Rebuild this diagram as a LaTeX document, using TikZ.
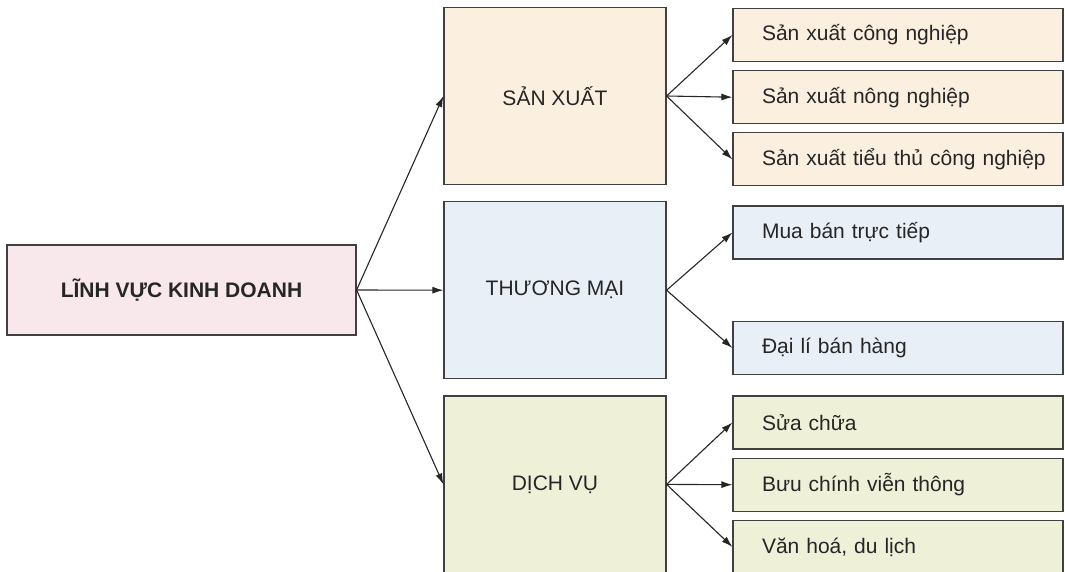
\documentclass[tikz,border=0pt]{standalone}
\usepackage{fontspec}
\setmainfont{Liberation Sans}
\usetikzlibrary{arrows.meta,positioning}
\definecolor{rootpink}{HTML}{F8E8EC}
\definecolor{sxbeige}{HTML}{FBEFDF}
\definecolor{tmblue}{HTML}{E8EFF7}
\definecolor{dvgreen}{HTML}{EEF0D8}

\begin{document}
\begin{tikzpicture}[
  x=1pt, y=-1pt,
  node distance=8pt,
  base/.style={draw=black!75, line width=1.2pt, text=black!85, font=\fontsize{21}{25}\selectfont},
  root/.style={base, fill=rootpink, minimum width=349pt, minimum height=90pt, font=\fontsize{21}{25}\selectfont\bfseries},
  mid/.style={base, minimum width=222pt, minimum height=177pt},
  leaf/.style={base, minimum width=330pt, minimum height=53pt, text width=301pt, inner xsep=0pt, align=left,
    execute at begin node={\leftskip=14.5pt}},
  arr/.style={->, line width=1.1pt, draw=black!85},
  >={Latex[length=11pt,width=7pt]}]
  \useasboundingbox (0,0) rectangle (1065,572);

  \node[root] (lv) at (181.5,290) {LĨNH VỰC KINH DOANH};

  \node[mid, fill=sxbeige] (sx) at (555,96) {SẢN XUẤT};
  \node[mid, fill=tmblue, below=16pt of sx] (tm) {THƯƠNG MẠI};
  \node[mid, fill=dvgreen, below=16pt of tm] (dv) {DỊCH VỤ};

  \node[leaf, fill=sxbeige] (cn) at (898,35) {Sản xuất công nghiệp};
  \node[leaf, fill=sxbeige, below=of cn] (nn) {Sản xuất nông nghiệp};
  \node[leaf, fill=sxbeige, below=of nn] (tt) {Sản xuất tiểu thủ công nghiệp};

  \node[leaf, fill=tmblue] (mb) at (898,232.5) {Mua bán trực tiếp};
  \node[leaf, fill=tmblue] (dl) at (898,348) {Đại lí bán hàng};

  \node[leaf, fill=dvgreen] (sc) at (898,422.5) {Sửa chữa};
  \node[leaf, fill=dvgreen, below=of sc] (bc) {Bưu chính viễn thông};
  \node[leaf, fill=dvgreen, below=of bc] (vh) {Văn hoá, du lịch};

  \foreach \m in {sx,tm,dv} \draw[arr] (lv.east) -- (\m.west);
  \foreach \l in {cn,nn,tt} \draw[arr] (sx.east) -- (\l.west);
  \foreach \l in {mb,dl} \draw[arr] (tm.east) -- (\l.west);
  \foreach \l in {sc,bc,vh} \draw[arr] (dv.east) -- (\l.west);
\end{tikzpicture}
\end{document}
